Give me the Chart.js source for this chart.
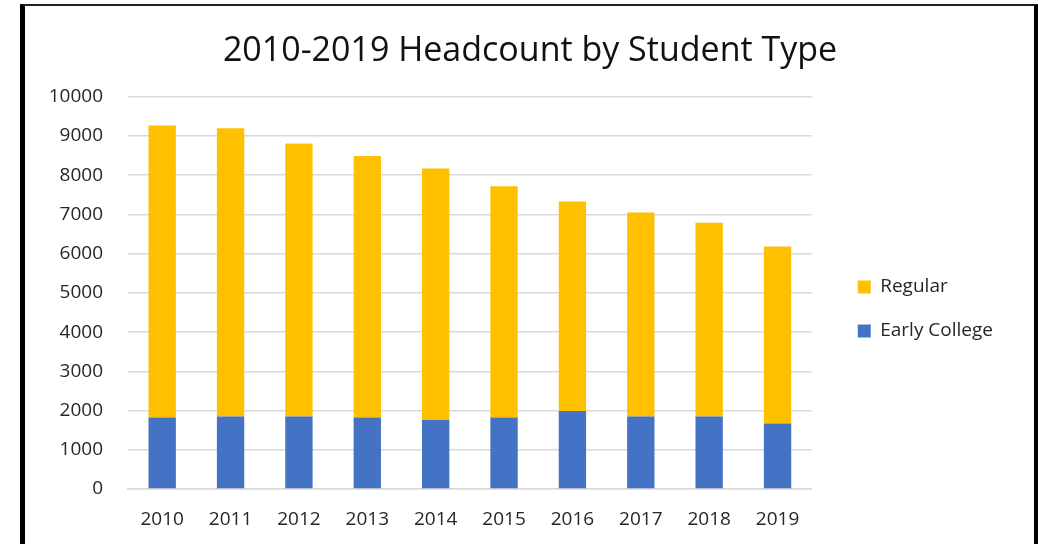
<!DOCTYPE html>
<html>
<head>
<meta charset="utf-8">
<title>2010-2019 Headcount by Student Type</title>
<script src="https://cdn.jsdelivr.net/npm/chart.js@4"></script>
<style>
  html, body { margin: 0; padding: 0; background: #fff; overflow: hidden; }
  .frame {
    position: absolute; left: 20px; top: 4px; right: 0; bottom: -10px;
    border-left: 5px solid #000; border-top: 2px solid #222; border-right: 4px solid #000;
  }
  .chart-box { position: absolute; left: 0; top: 0; width: 1038px; height: 544px; }
</style>
</head>
<body>
<div class="frame"></div>
<div class="chart-box"><canvas id="myChart"></canvas></div>
<script>
const years = ["2010", "2011", "2012", "2013", "2014", "2015", "2016", "2017", "2018", "2019"];
const earlyCollege = [1820, 1850, 1850, 1820, 1760, 1820, 1990, 1850, 1850, 1670];
const regular = [7450, 7350, 6960, 6670, 6410, 5900, 5340, 5200, 4940, 4510];

const fontName = "'Open Sans', sans-serif";
const textColor = "#262626";
const gridColor = "#d9d9d9";

// keep the title centred on the framed box rather than on the padded canvas
const centerTitle = {
    id: "centerTitle",
    afterLayout: (chart) => {
        if (chart.titleBlock) {
            chart.titleBlock.left = 22;
            chart.titleBlock.right = 1038;
        }
    },
};

const ctx = document.getElementById("myChart").getContext("2d");
const myChart = new Chart(ctx, {
    type: "bar",
    data: {
        labels: years,
        datasets: [
            {
                label: "Early College",
                data: earlyCollege,
                backgroundColor: "#4472C4",
                borderWidth: 0,
            },
            {
                label: "Regular",
                data: regular,
                backgroundColor: "#FFC000",
                borderWidth: 0,
            },
        ],
    },
    options: {
        responsive: true,
        maintainAspectRatio: false,
        animation: false,
        layout: { padding: { top: 4, left: 44, right: 35, bottom: 0 } },
        datasets: { bar: { barPercentage: 0.4, categoryPercentage: 1 } },
        scales: {
            x: {
                stacked: true,
                grid: { display: false },
                border: { color: gridColor, width: 1.5 },
                ticks: { color: textColor, font: { family: fontName, size: 19 }, padding: 11, maxRotation: 0 },
                afterFit: (scale) => { scale.height = 55; },
            },
            y: {
                stacked: true,
                min: 0,
                max: 10000,
                ticks: {
                    stepSize: 1000,
                    color: textColor,
                    font: { family: fontName, size: 19 },
                    padding: 25,
                    callback: (value) => String(value),
                },
                grid: { color: gridColor, lineWidth: 1.5, drawTicks: false },
                border: { display: false },
                afterFit: (scale) => { scale.width = 84; },
            },
            gap: {
                type: "linear",
                position: "right",
                grid: { display: false },
                border: { display: false },
                ticks: { display: false },
                afterFit: (scale) => { scale.width = 21; },
            },
        },
        plugins: {
            title: {
                display: true,
                text: "2010-2019 Headcount by Student Type",
                color: "#111111",
                font: { family: fontName, size: 34, weight: "normal" },
                padding: { top: 27, bottom: 25 },
            },
            legend: {
                position: "right",
                fullSize: false,
                reverse: true,
                maxWidth: 240,
                title: { display: true, text: " ", font: { size: 12, lineHeight: 1 }, padding: 10 },
                labels: {
                    boxWidth: 13,
                    boxHeight: 13,
                    padding: 25,
                    color: textColor,
                    font: { family: fontName, size: 19 },
                },
            },
            tooltip: { enabled: false },
        },
    },
    plugins: [centerTitle],
});
</script>
</body>
</html>
